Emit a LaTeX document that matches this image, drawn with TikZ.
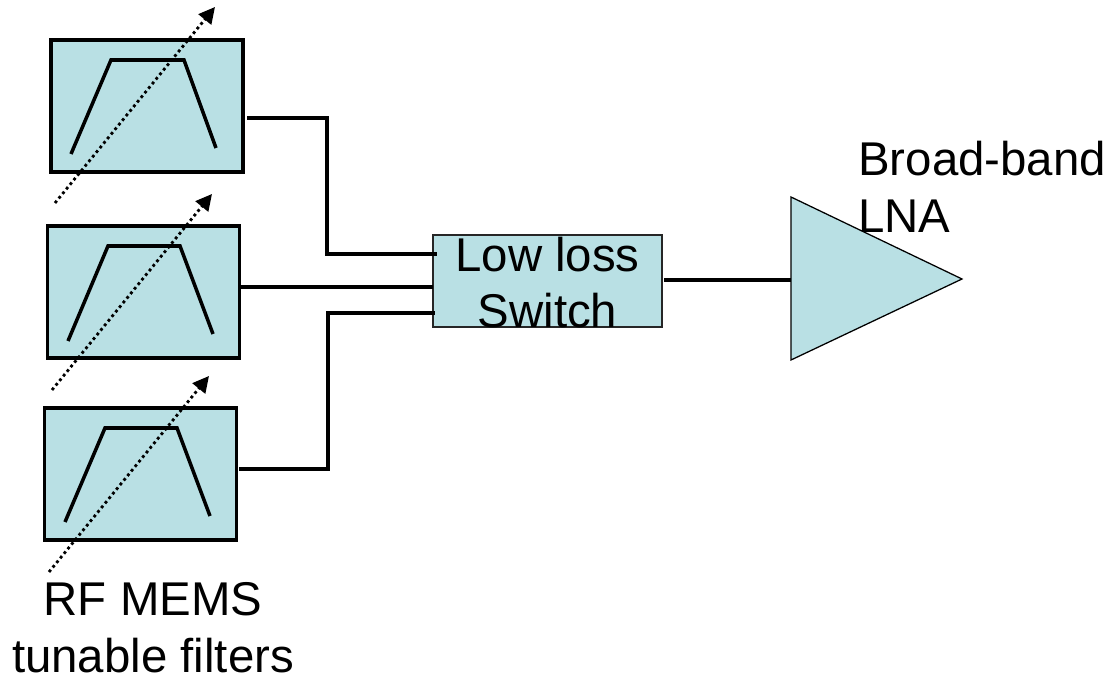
\documentclass[tikz,border=0pt]{standalone}
\usepackage{xcolor}
\usepackage{fontspec}
\setmainfont{Liberation Sans}
\usepackage{tikz}
\usetikzlibrary{arrows.meta}
\definecolor{filterblue}{HTML}{B9E0E4}

\begin{document}
\begin{tikzpicture}[x=0.025cm,y=-0.025cm]
      \tikzstyle{filterbox}=[rectangle,draw=black,fill=filterblue,line width=2.5pt,minimum width=4.8cm,minimum height=3.3cm,inner sep=0pt]
      \tikzstyle{switchbox}=[rectangle,draw=black!85,fill=filterblue,line width=0.9pt,minimum width=5.725cm,minimum height=2.3cm,inner sep=0pt]
      \tikzstyle{amp}=[draw=black,fill=filterblue,line width=0.9pt,line join=miter]
      \tikzstyle{passband}=[line width=2.5pt,line join=miter]
      \tikzstyle{wire}=[line width=2.5pt,line join=miter]
      \tikzstyle{tune}=[line width=2pt,dash pattern=on 2pt off 2.2pt,-{Triangle[length=11.5pt,width=11.5pt]}]
      \tikzstyle{caption}=[font=\fontsize{33.7}{40.4}\selectfont,align=center,inner sep=0pt]
      \useasboundingbox (0,0) rectangle (1107,674);

      \node[filterbox] (f1) at (147,106) {};
      \node[filterbox] (f2) at (143.5,292) {};
      \node[filterbox] (f3) at (140.5,474) {};
      \node[switchbox] (sw) at (547.5,281) {};

      \coordinate (a1) at (791,197);
      \coordinate (a2) at (791,360);
      \coordinate (a3) at (962,279);
      \coordinate (ain) at (791,280);
      \draw[amp] (a1) -- (a3) -- (a2) -- cycle;

      \draw[passband] (71,154) -- (111,60) -- (184,60) -- (216,148);
      \draw[passband] (68,341) -- (108,246) -- (180,246) -- (213,334);
      \draw[passband] (65,522) -- (105,428) -- (177,428) -- (210,516);

      \coordinate (t1s) at (55,203);
      \coordinate (t1e) at (215,7);
      \coordinate (t2s) at (52,390);
      \coordinate (t2e) at (212,194);
      \coordinate (t3s) at (49,572);
      \coordinate (t3e) at (209,376);
      \draw[tune] (t1s) -- (t1e);
      \draw[tune] (t2s) -- (t2e);
      \draw[tune] (t3s) -- (t3e);

      \coordinate (w1) at (247,118);
      \coordinate (w2) at (241,287);
      \coordinate (w3) at (239,469);
      \coordinate (s1) at (437,254);
      \coordinate (s2) at (433,287);
      \coordinate (s3) at (435,313);
      \coordinate (sout) at (664,280);
      \draw[wire] (w1) -- (327,118) -- (327,254) -- (s1);
      \draw[wire] (w2) -- (s2);
      \draw[wire] (w3) -- (328,469) -- (328,313) -- (s3);
      \draw[wire] (sout) -- (ain);

      \node[caption] (swlabel) at (547.5,282.5) {Low loss\\Switch};
      \node[caption,align=left,anchor=west] (lna) at (858,186.5) {Broad-band\\LNA};
      \node[caption] (filters) at (153,627.5) {RF MEMS\\tunable filters};
    \end{tikzpicture}
\end{document}
